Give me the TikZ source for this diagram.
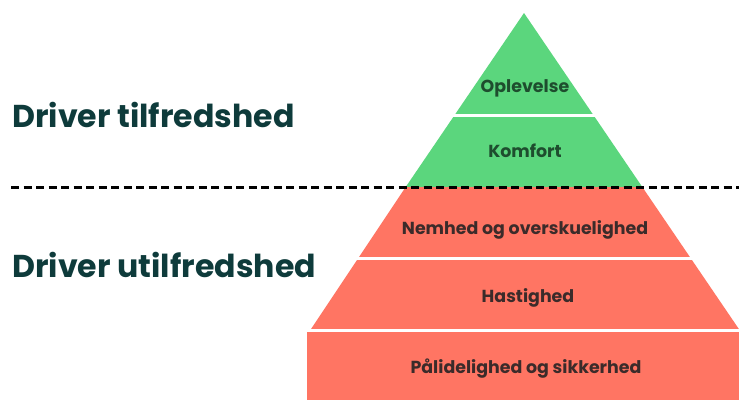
\documentclass[tikz,border=0pt]{standalone}
\usepackage{fontspec}
\setmainfont{Poppins}
\definecolor{pgreen}{HTML}{5BD67D}
\definecolor{pred}{HTML}{FF7563}
\definecolor{gtext}{HTML}{1E4D2E}
\definecolor{rtext}{HTML}{3B2B2A}
\definecolor{head}{HTML}{0E3B3B}
\tikzset{
  headline/.style={anchor=base west, text=head, font=\fontsize{31.6}{36}\selectfont\bfseries, inner sep=0pt},
  glabel/.style={anchor=base, text=gtext, font=\fontsize{17.4}{20}\selectfont\bfseries, inner sep=0pt},
  rlabel/.style={anchor=base, text=rtext, font=\fontsize{17.4}{20}\selectfont\bfseries, inner sep=0pt},
  gap/.style={draw=white, line width=3pt},
  divider/.style={draw=black, line width=3pt, dash pattern=on 8pt off 4.5pt}
}
\begin{document}
\begin{tikzpicture}[x=1pt, y=-1pt]
\useasboundingbox (0,0) rectangle (739,400);
% pyramid: apex (524,13), half width = 0.68*(y-13)
\fill[pgreen] (524,13) -- (642.3,187) -- (405.7,187) -- cycle;
\fill[pred] (405.7,187) -- (642.3,187) -- (739,329.2) -- (739,332) -- (309,332) -- cycle;
\fill[pred] (307,332) rectangle (741,400);
\draw[gap] (440,115.5) -- (610,115.5);
\draw[gap] (340,258.5) -- (710,258.5);
\draw[gap] (300,330.5) -- (741,330.5);
% divider
\draw[divider] (11,187) -- (741,187);
% labels
\node[glabel] (oplevelse) at (525,92) {Oplevelse};
\node[glabel] (komfort) at (525,157) {Komfort};
\node[rlabel] (nemhed) at (525,234) {Nemhed og overskuelighed};
\node[rlabel] (hastighed) at (528,302) {Hastighed};
\node[rlabel] (paalid) at (526,373) {Pålidelighed og sikkerhed};
\node[headline] (tilf) at (12,127) {Driver tilfredshed};
\node[headline] (utilf) at (12,277) {Driver utilfredshed};
\end{tikzpicture}
\end{document}
